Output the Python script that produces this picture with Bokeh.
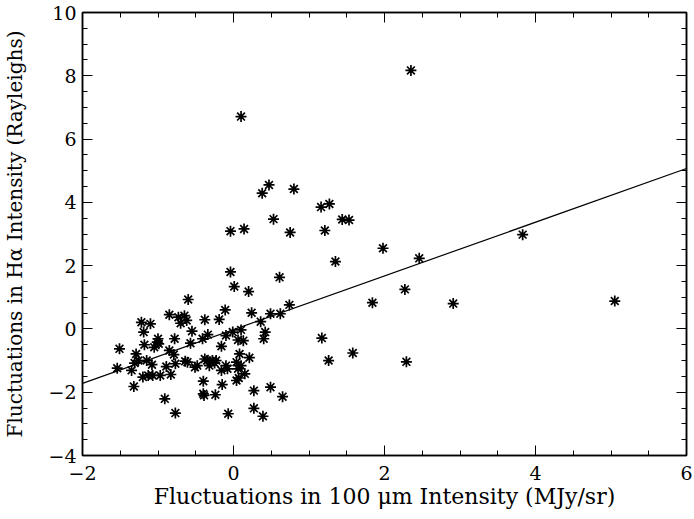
from bokeh.plotting import figure
from bokeh.models import (LinearAxis, SingleIntervalTicker, CustomJSTickFormatter,
                          Range1d, ColumnDataSource)
from bokeh.embed import file_html
from bokeh.resources import INLINE

# ---- data ----
dust_x = [2.35, 0.10, 0.47, 0.38, 0.80, 1.16, 1.27, 1.44, 1.53, 0.53,
          -0.04, 0.14, 0.75, 1.21, 1.35, 1.98, -0.04, 0.01, 0.20, 0.61,
          3.83, 2.46, 2.27, 1.84, 2.91, 5.05, 2.29, 1.58, 1.26, 1.17,
          0.74, 0.62, 0.49, 0.36, 0.42, 0.40, 0.27, 0.49, 0.65, 0.24,
          -0.60, -0.11, -0.85, -0.73, -0.65, -0.70, -0.62, -0.38, -0.19, -1.22,
          -1.10, -1.19, -0.55, -0.10, -0.01, 0.10, -0.34, -0.41, 0.06, 0.13,
          -1.18, -1.05, -0.99, -0.78, -0.57, -0.85, -0.79, -0.16, -1.51, -1.29,
          -1.26, -1.31, -1.15, -1.08, -0.89, -0.77, -0.64, -0.61, -0.51, -0.48,
          -0.38, -0.35, -0.28, -0.23, -0.25, -0.32, -0.16, -0.10, -0.08, 0.04,
          0.06, 0.08, 0.10, 0.21, 0.15, 0.04, 0.07, -1.54, -1.35, -1.20,
          -1.13, -1.07, -0.97, -0.83, -1.32, -0.40, -0.15, -0.40, -0.39, -0.24,
          -0.91, -0.77, -0.07, 0.27, 0.39, -1.00, -1.01]
halpha_y = [8.17, 6.71, 4.55, 4.29, 4.42, 3.85, 3.95, 3.46, 3.44, 3.47,
            3.09, 3.16, 3.05, 3.11, 2.13, 2.55, 1.80, 1.34, 1.18, 1.63,
            2.98, 2.23, 1.25, 0.83, 0.80, 0.88, -1.04, -0.76, -1.00, -0.29,
            0.76, 0.48, 0.48, 0.23, -0.10, -0.31, -1.95, -1.84, -2.14, 0.51,
            0.93, 0.60, 0.45, 0.37, 0.42, 0.18, 0.27, 0.29, 0.30, 0.21,
            0.16, -0.10, -0.07, -0.21, -0.10, -0.03, -0.18, -0.31, -0.35, -0.37,
            -0.50, -0.58, -0.47, -0.31, -0.45, -0.68, -0.81, -0.55, -0.63, -0.79,
            -1.00, -1.08, -1.00, -1.13, -1.19, -1.10, -1.02, -1.05, -1.21, -1.16,
            -0.95, -1.00, -1.00, -1.00, -1.08, -1.16, -1.31, -1.16, -1.26, -1.05,
            -1.26, -0.79, -1.16, -0.91, -1.42, -1.63, -1.55, -1.24, -1.31, -1.52,
            -1.47, -1.47, -1.47, -1.44, -1.82, -1.65, -1.76, -2.05, -2.10, -2.08,
            -2.21, -2.66, -2.68, -2.51, -2.76, -0.31, -0.42]

fit_x = [-2.0, 6.0]
fit_y = [-1.72, 5.07]

x_label = "Fluctuations in 100 \u03bcm Intensity (MJy/sr)"
y_label = "Fluctuations in H\u03b1 Intensity (Rayleighs)"

FONT = "DejaVu Serif"

p = figure(width=694, height=519, output_backend="svg", toolbar_location=None,
           x_range=Range1d(-2, 6), y_range=Range1d(-4, 10),
           x_axis_type=None, y_axis_type=None,
           min_border_left=81, min_border_right=8, min_border_top=12,
           min_border_bottom=64)
p.grid.visible = False
p.outline_line_color = "black"
p.outline_line_width = 1.5
p.background_fill_color = "white"
p.border_fill_color = "white"

def make_axis(show_labels, label=None, tick_standoff=6, label_standoff=8,
              label_size="21px"):
    ax = LinearAxis(ticker=SingleIntervalTicker(interval=2, num_minor_ticks=4))
    ax.axis_line_color = "black"
    ax.axis_line_width = 1.5
    ax.major_tick_in = 10
    ax.major_tick_out = 0
    ax.minor_tick_in = 5
    ax.minor_tick_out = 0
    ax.major_tick_line_color = "black"
    ax.minor_tick_line_color = "black"
    ax.major_tick_line_width = 1
    ax.minor_tick_line_width = 1
    if show_labels:
        ax.major_label_text_font = FONT
        ax.major_label_text_font_size = "19px"
        ax.major_label_text_color = "black"
        ax.major_label_standoff = tick_standoff
        ax.axis_label = label
        ax.axis_label_text_font = FONT
        ax.axis_label_text_font_size = label_size
        ax.axis_label_text_font_style = "normal"
        ax.axis_label_text_color = "black"
        ax.axis_label_standoff = label_standoff
    else:
        ax.formatter = CustomJSTickFormatter(code="return ''")
        ax.major_label_text_font_size = "0px"
        ax.major_label_standoff = 0
    return ax

p.add_layout(make_axis(True, x_label, tick_standoff=10, label_standoff=1,
                       label_size="22px"), "below")
p.add_layout(make_axis(True, y_label, tick_standoff=6, label_standoff=18,
                       label_size="20px"), "left")
p.add_layout(make_axis(False), "above")
p.add_layout(make_axis(False), "right")

src = ColumnDataSource(dict(x=dust_x, y=halpha_y))
p.scatter("x", "y", source=src, marker="asterisk", size=11,
          line_color="black", line_width=1.7)
p.line(fit_x, fit_y, line_color="black", line_width=1.2)

open("out.html", "w").write(file_html(p, INLINE))
